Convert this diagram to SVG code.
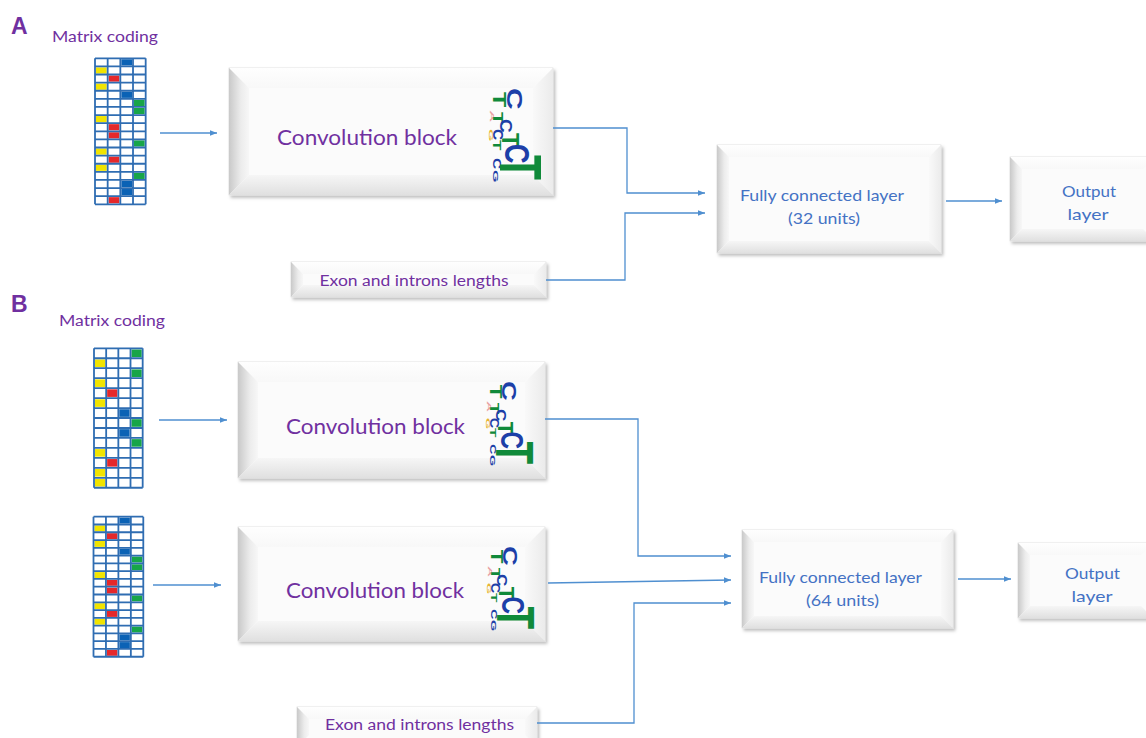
<svg xmlns="http://www.w3.org/2000/svg" xmlns:xlink="http://www.w3.org/1999/xlink" width="1146" height="738" viewBox="0 0 1146 738">
<style>
.lbl{font-family:Lato,"Liberation Sans",Arial,sans-serif;}
.pur{fill:#7030a0;}
.blu{fill:#4472c4;}
.conn{fill:none;stroke:#4f8fd0;stroke-width:1.3;marker-end:url(#ah);}
.gl{fill:none;stroke:#2f6db2;stroke-width:1.8;vector-effect:non-scaling-stroke;}
.cy{fill:#f1e400;} .cr{fill:#e5282b;} .cb{fill:#0b62b5;} .cg{fill:#17a548;}
.face{fill:#fbfbfb;stroke:#dcdcdc;stroke-width:0.8;}
.bl{fill:url(#gL);} .bt{fill:url(#gT);} .br{fill:url(#gR);} .bb{fill:url(#gB);}
.lg{font-family:"Liberation Sans",Arial,sans-serif;font-weight:bold;font-size:100px;}
.hd{font-family:"Liberation Sans",Arial,sans-serif;font-weight:bold;}
.lG{fill:#108a3a;} .lB{fill:#1d3fa8;} .lP{fill:#e9a3a3;} .lY{fill:#e8b530;}
</style>
<defs>
<marker id="ah" viewBox="0 0 10 10" refX="10" refY="5" markerWidth="7" markerHeight="7" markerUnits="userSpaceOnUse" orient="auto"><path d="M0,1 L10,5 L0,9z" fill="#4f8fd0"/></marker>
<filter id="sh" x="-10%" y="-10%" width="130%" height="140%"><feDropShadow dx="2" dy="2.5" stdDeviation="1.8" flood-color="#000" flood-opacity="0.25"/></filter>
<linearGradient id="gL" x1="0" y1="0" x2="1" y2="0"><stop offset="0" stop-color="#c9c9c9"/><stop offset="0.6" stop-color="#ececec"/><stop offset="1" stop-color="#f7f7f7"/></linearGradient>
<linearGradient id="gT" x1="0" y1="0" x2="0" y2="1"><stop offset="0" stop-color="#fefefe"/><stop offset="1" stop-color="#f8f8f8"/></linearGradient>
<linearGradient id="gR" x1="0" y1="0" x2="1" y2="0"><stop offset="0" stop-color="#f9f9f9"/><stop offset="1" stop-color="#ebebeb"/></linearGradient>
<linearGradient id="gB" x1="0" y1="0" x2="0" y2="1"><stop offset="0" stop-color="#f6f6f6"/><stop offset="1" stop-color="#e0e0e0"/></linearGradient>
<g id="g18">
<rect x="0" y="0" width="4" height="18" fill="#fff"/>
<rect class="cb" x="2.08" y="0.12" width="0.84" height="0.76"/>
<rect class="cy" x="0.08" y="1.12" width="0.84" height="0.76"/>
<rect class="cr" x="1.08" y="2.12" width="0.84" height="0.76"/>
<rect class="cy" x="0.08" y="3.12" width="0.84" height="0.76"/>
<rect class="cb" x="2.08" y="4.12" width="0.84" height="0.76"/>
<rect class="cg" x="3.08" y="5.12" width="0.84" height="0.76"/>
<rect class="cg" x="3.08" y="6.12" width="0.84" height="0.76"/>
<rect class="cy" x="0.08" y="7.12" width="0.84" height="0.76"/>
<rect class="cr" x="1.08" y="8.12" width="0.84" height="0.76"/>
<rect class="cr" x="1.08" y="9.12" width="0.84" height="0.76"/>
<rect class="cg" x="3.08" y="10.12" width="0.84" height="0.76"/>
<rect class="cy" x="0.08" y="11.12" width="0.84" height="0.76"/>
<rect class="cr" x="1.08" y="12.12" width="0.84" height="0.76"/>
<rect class="cy" x="0.08" y="13.12" width="0.84" height="0.76"/>
<rect class="cg" x="3.08" y="14.12" width="0.84" height="0.76"/>
<rect class="cb" x="2.08" y="15.12" width="0.84" height="0.76"/>
<rect class="cb" x="2.08" y="16.12" width="0.84" height="0.76"/>
<rect class="cr" x="1.08" y="17.12" width="0.84" height="0.76"/>
<path class="gl" d="M0 0V18M1 0V18M2 0V18M3 0V18M4 0V18M0 0H4M0 1H4M0 2H4M0 3H4M0 4H4M0 5H4M0 6H4M0 7H4M0 8H4M0 9H4M0 10H4M0 11H4M0 12H4M0 13H4M0 14H4M0 15H4M0 16H4M0 17H4M0 18H4"/>
</g>
<g id="g14">
<rect x="0" y="0" width="4" height="14" fill="#fff"/>
<rect class="cg" x="3.08" y="0.12" width="0.84" height="0.76"/>
<rect class="cy" x="0.08" y="1.12" width="0.84" height="0.76"/>
<rect class="cg" x="3.08" y="2.12" width="0.84" height="0.76"/>
<rect class="cy" x="0.08" y="3.12" width="0.84" height="0.76"/>
<rect class="cr" x="1.08" y="4.12" width="0.84" height="0.76"/>
<rect class="cy" x="0.08" y="5.12" width="0.84" height="0.76"/>
<rect class="cb" x="2.08" y="6.12" width="0.84" height="0.76"/>
<rect class="cg" x="3.08" y="7.12" width="0.84" height="0.76"/>
<rect class="cb" x="2.08" y="8.12" width="0.84" height="0.76"/>
<rect class="cg" x="3.08" y="9.12" width="0.84" height="0.76"/>
<rect class="cy" x="0.08" y="10.12" width="0.84" height="0.76"/>
<rect class="cr" x="1.08" y="11.12" width="0.84" height="0.76"/>
<rect class="cy" x="0.08" y="12.12" width="0.84" height="0.76"/>
<rect class="cy" x="0.08" y="13.12" width="0.84" height="0.76"/>
<path class="gl" d="M0 0V14M1 0V14M2 0V14M3 0V14M4 0V14M0 0H4M0 1H4M0 2H4M0 3H4M0 4H4M0 5H4M0 6H4M0 7H4M0 8H4M0 9H4M0 10H4M0 11H4M0 12H4M0 13H4M0 14H4"/>
</g>
<g id="logo">
<text class="lg lG" transform="translate(3,2) rotate(90) scale(0.25,0.19)">T</text>
<text class="lg lB" transform="translate(17,-2) rotate(90) scale(0.3,0.215)">C</text>
<text class="lg lP" transform="translate(0,20) rotate(90) scale(0.17,0.05)">A</text>
<text class="lg lG" transform="translate(3,22) rotate(90) scale(0.21,0.14)">T</text>
<text class="lg lB" transform="translate(10,29) rotate(90) scale(0.19,0.17)">C</text>
<text class="lg lY" transform="translate(-1,39) rotate(90) scale(0.16,0.05)">G</text>
<text class="lg lB" transform="translate(3,39) rotate(90) scale(0.155,0.14)">C</text>
<text class="lg lG" transform="translate(12,43) rotate(90) scale(0.24,0.24)">T</text>
<text class="lg lG" transform="translate(3,50) rotate(90) scale(0.17,0.11)">T</text>
<text class="lg lB" transform="translate(15,54) rotate(90) scale(0.27,0.355)">C</text>
<text class="lg lB" transform="translate(3,68) rotate(90) scale(0.155,0.1)">C</text>
<text class="lg lG" transform="translate(10,65) rotate(90) scale(0.41,0.6)">T</text>
<text class="lg lB" transform="translate(3,80) rotate(90) scale(0.16,0.08)">G</text>
</g>
</defs>
<rect x="0" y="0" width="1146" height="738" fill="#fff"/>

<text class="hd pur" x="11" y="34" font-size="23">A</text>
<text class="hd pur" x="11" y="312" font-size="23">B</text>

<g id="matrixA">
<text class="lbl pur" x="52" y="42" font-size="14.5" textLength="106" lengthAdjust="spacingAndGlyphs">Matrix coding</text>
<use xlink:href="#g18" transform="translate(95,58.3) scale(12.67,8.11)"/>
</g>
<g id="matrixB1">
<text class="lbl pur" x="59" y="326" font-size="14.5" textLength="106" lengthAdjust="spacingAndGlyphs">Matrix coding</text>
<use xlink:href="#g14" transform="translate(94,348.3) scale(12.17,9.96)"/>
</g>
<g id="matrixB2">
<use xlink:href="#g18" transform="translate(93.5,516.7) scale(12.45,7.78)"/>
</g>

<g id="convA">
<rect x="229" y="68" width="324" height="127" class="face" filter="url(#sh)"/>
<polygon class="bt" points="229,68 553,68 533,88 249,88"/>
<polygon class="bl" points="229,68 249,88 249,175 229,195"/>
<polygon class="br" points="553,68 553,195 533,175 533,88"/>
<polygon class="bb" points="229,195 553,195 533,175 249,175"/>
<text class="lbl pur" x="367" y="145" font-size="21" text-anchor="middle" textLength="180" lengthAdjust="spacingAndGlyphs">Convolution block</text>
<use xlink:href="#logo" transform="translate(490,90)"/>
</g>

<g id="fcA">
<rect x="717" y="145" width="224" height="108" class="face" filter="url(#sh)"/>
<polygon class="bt" points="717,145 941,145 929,157 729,157"/>
<polygon class="bl" points="717,145 729,157 729,241 717,253"/>
<polygon class="br" points="941,145 941,253 929,241 929,157"/>
<polygon class="bb" points="717,253 941,253 929,241 729,241"/>
<text class="lbl blu" x="822" y="201" font-size="16" text-anchor="middle" textLength="164" lengthAdjust="spacingAndGlyphs">Fully connected layer</text>
<text class="lbl blu" x="824" y="224" font-size="16" text-anchor="middle" textLength="72" lengthAdjust="spacingAndGlyphs">(32 units)</text>
</g>

<g id="outA">
<rect x="1010" y="157" width="145" height="84" class="face" filter="url(#sh)"/>
<polygon class="bt" points="1010,157 1155,157 1143,169 1022,169"/>
<polygon class="bl" points="1010,157 1022,169 1022,229 1010,241"/>
<polygon class="bb" points="1010,241 1155,241 1143,229 1022,229"/>
<text class="lbl blu" x="1089" y="197" font-size="16" text-anchor="middle" textLength="54" lengthAdjust="spacingAndGlyphs">Output</text>
<text class="lbl blu" x="1088" y="220" font-size="16" text-anchor="middle" textLength="41" lengthAdjust="spacingAndGlyphs">layer</text>
</g>

<g id="exonA">
<rect x="291" y="262" width="255" height="35" class="face" filter="url(#sh)"/>
<polygon class="bt" points="291,262 546,262 534,274 303,274"/>
<polygon class="bl" points="291,262 303,274 303,285 291,297"/>
<polygon class="br" points="546,262 546,297 534,285 534,274"/>
<polygon class="bb" points="291,297 546,297 534,285 303,285"/>
<text class="lbl pur" x="414" y="286" font-size="15.5" text-anchor="middle" textLength="189" lengthAdjust="spacingAndGlyphs">Exon and introns lengths</text>
</g>

<g id="convB1">
<rect x="238" y="362" width="307" height="116" class="face" filter="url(#sh)"/>
<polygon class="bt" points="238,362 545,362 525,382 258,382"/>
<polygon class="bl" points="238,362 258,382 258,458 238,478"/>
<polygon class="br" points="545,362 545,478 525,458 525,382"/>
<polygon class="bb" points="238,478 545,478 525,458 258,458"/>
<text class="lbl pur" x="375.5" y="434" font-size="21" text-anchor="middle" textLength="179" lengthAdjust="spacingAndGlyphs">Convolution block</text>
<use xlink:href="#logo" transform="translate(487,383) scale(0.9)"/>
</g>

<g id="convB2">
<rect x="238" y="527" width="307" height="114" class="face" filter="url(#sh)"/>
<polygon class="bt" points="238,527 545,527 525,547 258,547"/>
<polygon class="bl" points="238,527 258,547 258,621 238,641"/>
<polygon class="br" points="545,527 545,641 525,621 525,547"/>
<polygon class="bb" points="238,641 545,641 525,621 258,621"/>
<text class="lbl pur" x="375" y="598" font-size="21" text-anchor="middle" textLength="178" lengthAdjust="spacingAndGlyphs">Convolution block</text>
<use xlink:href="#logo" transform="translate(488,548) scale(0.9)"/>
</g>

<g id="fcB">
<rect x="742" y="530" width="211" height="98" class="face" filter="url(#sh)"/>
<polygon class="bt" points="742,530 953,530 941,542 754,542"/>
<polygon class="bl" points="742,530 754,542 754,616 742,628"/>
<polygon class="br" points="953,530 953,628 941,616 941,542"/>
<polygon class="bb" points="742,628 953,628 941,616 754,616"/>
<text class="lbl blu" x="840.5" y="583" font-size="16" text-anchor="middle" textLength="163" lengthAdjust="spacingAndGlyphs">Fully connected layer</text>
<text class="lbl blu" x="842.5" y="606" font-size="16" text-anchor="middle" textLength="73" lengthAdjust="spacingAndGlyphs">(64 units)</text>
</g>

<g id="outB">
<rect x="1018" y="543" width="135" height="75" class="face" filter="url(#sh)"/>
<polygon class="bt" points="1018,543 1153,543 1141,555 1030,555"/>
<polygon class="bl" points="1018,543 1030,555 1030,606 1018,618"/>
<polygon class="bb" points="1018,618 1153,618 1141,606 1030,606"/>
<text class="lbl blu" x="1092.5" y="579" font-size="16" text-anchor="middle" textLength="55" lengthAdjust="spacingAndGlyphs">Output</text>
<text class="lbl blu" x="1092" y="602" font-size="16" text-anchor="middle" textLength="41" lengthAdjust="spacingAndGlyphs">layer</text>
</g>

<g id="exonB">
<rect x="297" y="707" width="240" height="40" class="face" filter="url(#sh)"/>
<polygon class="bt" points="297,707 537,707 525,719 309,719"/>
<polygon class="bl" points="297,707 309,719 309,735 297,747"/>
<polygon class="br" points="537,707 537,747 525,735 525,719"/>
<text class="lbl pur" x="419.5" y="730" font-size="15.5" text-anchor="middle" textLength="189" lengthAdjust="spacingAndGlyphs">Exon and introns lengths</text>
</g>

<g id="connectors">
<path class="conn" d="M160,133 H217"/>
<path class="conn" d="M553,128 H627 V193 H705"/>
<path class="conn" d="M546,280 H625 V213 H705"/>
<path class="conn" d="M946,201 H1002"/>
<path class="conn" d="M159,420 H227"/>
<path class="conn" d="M153,585 H221"/>
<path class="conn" d="M545,419 H638 V556 H731"/>
<path class="conn" d="M548,583 L731,580"/>
<path class="conn" d="M537,723 H634 V603 H731"/>
<path class="conn" d="M958,579 H1011"/>
</g>
</svg>
